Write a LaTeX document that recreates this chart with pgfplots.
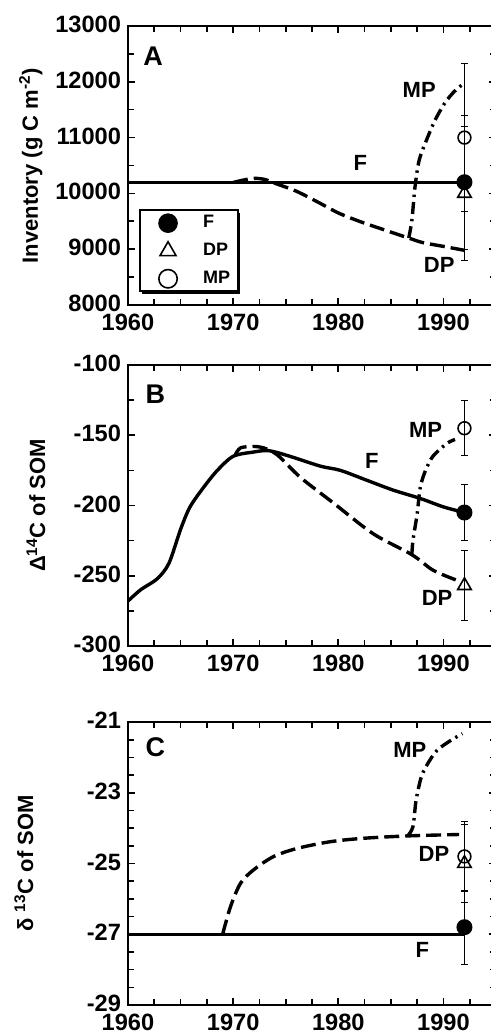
\documentclass[border=0pt]{standalone}
\usepackage{pgfplots}
\pgfplotsset{compat=1.18}
\usepackage{fontspec}
\setmainfont{Liberation Sans}
\usetikzlibrary{shadows}

\newcommand{\tk}{\fontsize{11.8}{14}\selectfont\bfseries}
\newcommand{\lb}{\fontsize{11}{13}\selectfont\bfseries}
\newcommand{\pl}{\fontsize{13.5}{15}\selectfont\bfseries}

\pgfplotsset{
  panel/.style={
    scale only axis, width=184pt,
    xmin=1960, xmax=1995,
    xtick={1960,1970,1980,1990},
    xticklabels={1960,1970,1980,1990},
    minor xtick={1962.5,1965,...,1995},
    scaled y ticks=false,
    tick align=inside,
    major tick length=3.5pt, minor tick length=3pt,
    axis line style={line width=1pt},
    tick style={line width=0.8pt, black},
    tick label style={font=\tk},
    xticklabel style={yshift=-1pt},
    yticklabel style={yshift=0.8pt},
    ylabel style={font=\lb, anchor=center},
  },
  Fline/.style={black, line width=1.7pt},
  DPline/.style={black, line width=1.7pt, dash pattern=on 7.5pt off 3pt},
  MPline/.style={black, line width=1.7pt, dash pattern=on 6pt off 2.5pt on 1.2pt off 2.5pt},
  ebar/.style={only marks, black,
    legend image code/.code={\path (-2.5pt,-1pt) (24pt,1pt);
      \draw[mark repeat=2, mark phase=2, ##1]
      plot coordinates {(0pt,0pt) (9pt,0pt) (18pt,0pt)};},
    error bars/y dir=both, error bars/y explicit,
    error bars/error bar style={line width=0.5pt, solid},
    error bars/error mark options={rotate=90, mark size=1.8pt, line width=0.5pt}},
  Fmark/.style={ebar, mark=*, mark size=3.7pt, mark options={fill=black, solid, line width=0.6pt}},
  DPmark/.style={ebar, mark=triangle, mark size=3.9pt, mark options={solid, line width=0.8pt}},
  MPmark/.style={ebar, mark=o, mark size=3.2pt, mark options={solid, line width=0.8pt}},
}

\begin{document}
\begin{tikzpicture}

% ---- A: inventory
\begin{axis}[panel, at={(0pt,350pt)}, height=139.5pt,
  ymin=8000, ymax=13000,
  ytick={8000,9000,10000,11000,12000,13000},
  yticklabels={8000,9000,10000,11000,12000,13000},
  minor y tick num=1,
  ylabel={Inventory (g C m\textsuperscript{-2})},
  ylabel style={at={(axis description cs:-0.264,0.5)}},
  legend style={at={(0.03,0.045)}, anchor=south west, draw=black, line width=1pt,
    fill=white, font=\fontsize{9}{10.5}\selectfont\bfseries,
    inner xsep=2pt, inner ysep=0.5pt, row sep=2.2pt,
    drop shadow={shadow xshift=1.2pt, shadow yshift=-1.2pt, fill=black, opacity=1}},
  legend image post style={mark size=4.6pt},
  legend cell align=left,
]
\addplot[Fline, forget plot] coordinates {(1960,10200) (1992,10200)};
\addplot[DPline, smooth, forget plot] coordinates {
  (1970,10195) (1971,10240) (1972,10270) (1973,10250) (1974,10180) (1976,10040)
  (1978,9850) (1980,9650) (1982,9500) (1984,9370) (1986.7,9200) (1988,9120)
  (1990,9050) (1992,8980)};
\addplot[MPline, smooth, forget plot] coordinates {
  (1986.7,9200) (1987,9520) (1987.3,10120) (1987.7,10600) (1988.4,10960)
  (1989.2,11310) (1990.1,11610) (1991,11820) (1992,11980)};
\addplot[Fmark] coordinates {(1992,10200) +- (0,1200)};
\addlegendentry{F}
\addplot[DPmark] coordinates {(1992,10000) +- (0,1200)};
\addlegendentry{DP}
\addplot[MPmark] coordinates {(1992,11000) +- (0,1330)};
\addlegendentry{MP}
\node[font=\pl] at (axis cs:1962.4,12460) {A};
\node[font=\lb] at (axis cs:1982.1,10540) {F};
\node[font=\lb] at (axis cs:1987.7,11850) {MP};
\node[font=\lb] at (axis cs:1989.6,8720) {DP};
\end{axis}

% ---- B: Delta 14C
\begin{axis}[panel, at={(0pt,179.5pt)}, height=140.5pt,
  ymin=-300, ymax=-100,
  ytick={-300,-250,-200,-150,-100},
  yticklabels={-300,-250,-200,-150,-100},
  minor y tick num=1,
  ylabel={Δ\textsuperscript{14}C of SOM},
  ylabel style={at={(axis description cs:-0.25,0.5)}},
]
\addplot[Fline, smooth] coordinates {
  (1960,-268) (1961.2,-260) (1962.8,-252) (1963.9,-241) (1965,-217) (1965.9,-201)
  (1967.2,-187) (1968.5,-175) (1970,-165) (1971.9,-162) (1973.4,-161) (1975.4,-165)
  (1978.3,-172) (1980.2,-175) (1982.7,-182) (1985.2,-189) (1987.8,-195) (1990,-201)
  (1992,-205)};
\addplot[DPline, smooth] coordinates {
  (1970.2,-164) (1970.7,-159) (1971.9,-158) (1972.9,-159) (1974.2,-164) (1976.4,-180)
  (1979.5,-198) (1983.3,-220) (1987,-235) (1989,-246) (1991.2,-253)};
\addplot[MPline, smooth] coordinates {
  (1987,-235) (1987.1,-225) (1987.5,-206) (1987.8,-187) (1988.3,-175) (1989,-165)
  (1990.3,-156) (1991.1,-153)};
\addplot[Fmark] coordinates {(1992,-205) +- (0,20)};
\addplot[DPmark] coordinates {(1992,-257) +- (0,25)};
\addplot[MPmark] coordinates {(1992,-145) +- (0,19.5)};
\node[font=\pl] at (axis cs:1962.6,-121) {B};
\node[font=\lb] at (axis cs:1983.2,-168) {F};
\node[font=\lb] at (axis cs:1988.3,-146) {MP};
\node[font=\lb] at (axis cs:1989.4,-266) {DP};
\end{axis}

% ---- C: delta 13C
\begin{axis}[panel, at={(0pt,0pt)}, height=141.5pt,
  ymin=-29, ymax=-21,
  ytick={-29,-27,-25,-23,-21},
  yticklabels={-29,-27,-25,-23,-21},
  minor y tick num=3,
  ylabel={δ \textsuperscript{13}C of SOM},
  ylabel style={at={(axis description cs:-0.283,0.5)}},
]
\addplot[Fline] coordinates {(1960,-27) (1992,-27)};
\addplot[DPline, smooth] coordinates {
  (1969,-27) (1969.75,-26.22) (1970.7,-25.56) (1971.9,-25.19) (1973.8,-24.81)
  (1976,-24.58) (1979.1,-24.39) (1982.25,-24.29) (1986.6,-24.22) (1991.5,-24.18)};
\addplot[MPline, smooth] coordinates {
  (1986.6,-24.22) (1987.1,-23.96) (1987.4,-23.21) (1987.9,-22.55) (1988.5,-22.18)
  (1989.4,-21.8) (1990.7,-21.52) (1991.8,-21.33)};
\addplot[Fmark] coordinates {(1992,-26.8) +- (0,1.05)};
\addplot[DPmark] coordinates {(1992,-25) +- (0,1.1)};
\addplot[MPmark] coordinates {(1992,-24.8) +- (0,1.0)};
\node[font=\pl] at (axis cs:1962.6,-21.7) {C};
\node[font=\lb] at (axis cs:1988,-27.45) {F};
\node[font=\lb] at (axis cs:1986.8,-21.8) {MP};
\node[font=\lb] at (axis cs:1989.1,-24.72) {DP};
\end{axis}

\pgfresetboundingbox
\useasboundingbox (-64pt,-14.5pt) rectangle (181.5pt,502.5pt);
\end{tikzpicture}
\end{document}
